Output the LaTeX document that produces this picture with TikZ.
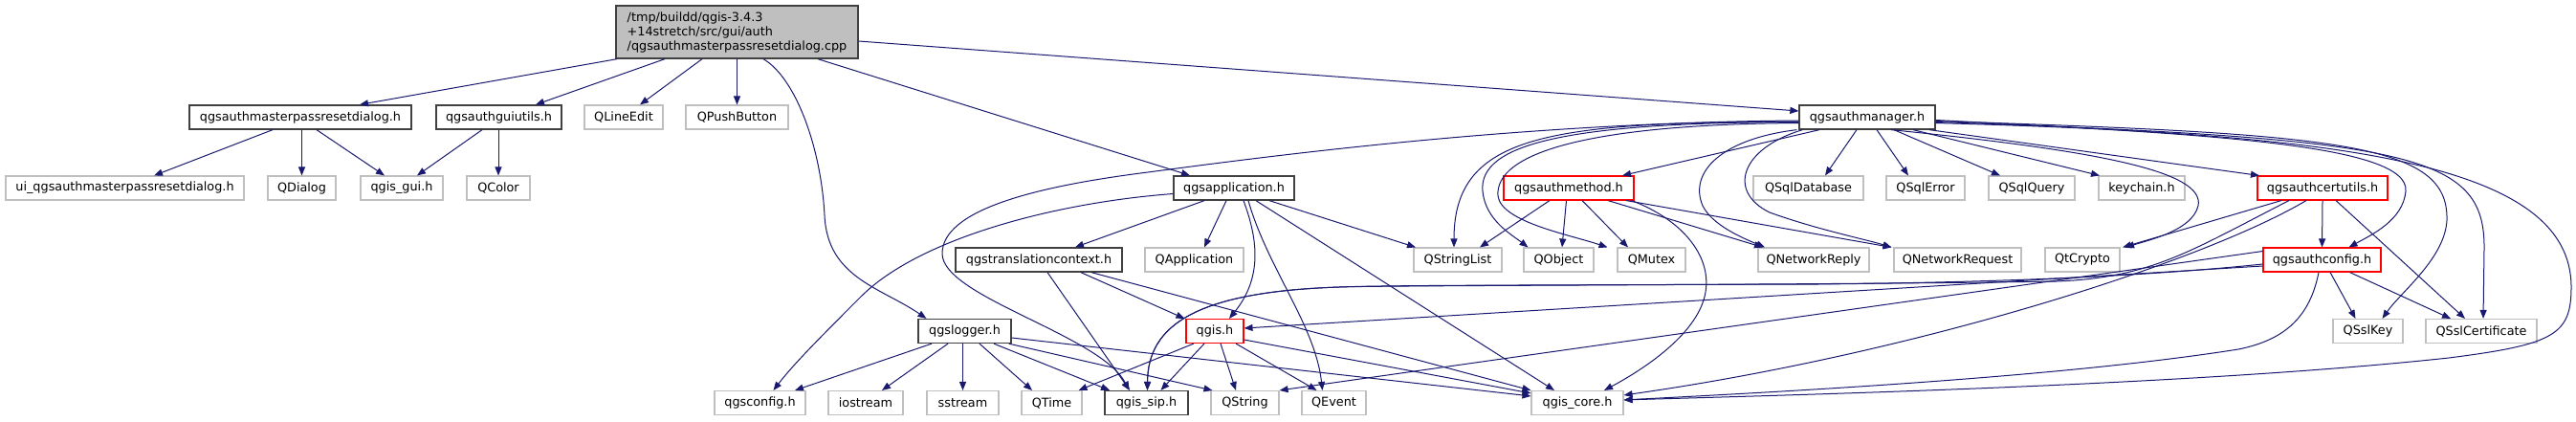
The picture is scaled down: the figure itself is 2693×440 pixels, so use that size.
\documentclass[tikz,border=0pt]{standalone}
\usepackage{fontspec}
\setmainfont{DejaVu Sans}
\usetikzlibrary{arrows.meta}
\definecolor{edgec}{HTML}{191970}
\definecolor{greyb}{HTML}{BFBFBF}
\definecolor{redb}{HTML}{FF0000}
\definecolor{blkb}{HTML}{404040}
\tikzset{
  nbase/.style={rectangle, inner sep=0pt, minimum height=25pt, font=\fontsize{12.8pt}{15pt}\selectfont, text=black},
  blk/.style={nbase, draw=blkb, line width=1.3pt, fill=white},
  redn/.style={nbase, draw=redb, line width=1.1pt, fill=white},
  gry/.style={nbase, draw=greyb, line width=1.1pt, fill=white},
  dep/.style={draw=edgec, line width=1pt, -{Triangle[length=9pt,width=7pt]}},
}
\begin{document}
\begin{tikzpicture}[x=1pt,y=-1pt]
\fill[white] (0,0) rectangle (2693,440);
\useasboundingbox (0,0) rectangle (2693,440);
% row 0
\node[blk, fill=greyb, minimum width=253pt, minimum height=55pt, align=left] (root) at (770.5,33.5) {/tmp/buildd/qgis-3.4.3\\+14stretch/src/gui/auth\\/qgsauthmasterpassresetdialog.cpp};
% row 1
\node[blk, minimum width=232pt] (pr) at (314,122.5) {qgsauthmasterpassresetdialog.h};
\node[blk, minimum width=131pt] (gu) at (521.5,122.5) {qgsauthguiutils.h};
\node[gry, minimum width=82pt] (le) at (652,122.5) {QLineEdit};
\node[gry, minimum width=107pt] (pb) at (770.5,122.5) {QPushButton};
\node[blk, minimum width=142pt] (am) at (1952,122.5) {qgsauthmanager.h};
% row 2
\node[gry, minimum width=249pt] (ui) at (130.5,196.5) {ui\_qgsauthmasterpassresetdialog.h};
\node[gry, minimum width=71pt] (qd) at (315.5,196.5) {QDialog};
\node[gry, minimum width=86pt] (gg) at (420,196.5) {qgis\_gui.h};
\node[gry, minimum width=66pt] (qc) at (521,196.5) {QColor};
\node[blk, minimum width=126pt] (ap) at (1290,196.5) {qgsapplication.h};
\node[redn, minimum width=136pt] (mt) at (1640,196.5) {qgsauthmethod.h};
\node[gry, minimum width=115pt] (sd) at (1890.5,196.5) {QSqlDatabase};
\node[gry, minimum width=82pt] (se) at (2013,196.5) {QSqlError};
\node[gry, minimum width=90pt] (sq) at (2124,196.5) {QSqlQuery};
\node[gry, minimum width=90pt] (kc) at (2239,196.5) {keychain.h};
\node[redn, minimum width=136pt] (cu) at (2428,196.5) {qgsauthcertutils.h};
% row 3
\node[blk, minimum width=174pt] (tc) at (1086,271.5) {qgstranslationcontext.h};
\node[gry, minimum width=103pt] (qa) at (1248.5,271.5) {QApplication};
\node[gry, minimum width=92pt] (sl) at (1524,271.5) {QStringList};
\node[gry, minimum width=73pt] (qo) at (1629.5,271.5) {QObject};
\node[gry, minimum width=71pt] (qm) at (1726.5,271.5) {QMutex};
\node[gry, minimum width=116pt] (nr) at (1896,271.5) {QNetworkReply};
\node[gry, minimum width=133pt] (nq) at (2046.5,271.5) {QNetworkRequest};
\node[gry, minimum width=78pt] (qt) at (2177,271.5) {QtCrypto};
\node[redn, minimum width=123pt] (ac) at (2427.5,271.5) {qgsauthconfig.h};
% row 4
\node[blk, minimum width=97pt] (lg) at (1008.5,346) {qgslogger.h};
\node[redn, minimum width=60pt] (qg) at (1270,346) {qgis.h};
\node[gry, minimum width=73pt] (sk) at (2475.5,346) {QSslKey};
\node[gry, minimum width=116pt] (sc) at (2594,346) {QSslCertificate};
% row 5
\node[gry, minimum width=95pt] (cf) at (794.5,421) {qgsconfig.h};
\node[gry, minimum width=78pt] (io) at (905,421) {iostream};
\node[gry, minimum width=75pt] (ss) at (1006.5,421) {sstream};
\node[gry, minimum width=63pt] (tm) at (1099.5,421) {QTime};
\node[blk, minimum width=87pt] (sp) at (1198.5,421) {qgis\_sip.h};
\node[gry, minimum width=71pt] (qs) at (1301.5,421) {QString};
\node[gry, minimum width=67pt] (ev) at (1394.5,421) {QEvent};
\node[gry, minimum width=96pt] (co) at (1649,421) {qgis\_core.h};

% root edges
\draw[dep] ([xshift=-125.5pt]root.south) -- ([xshift=62pt]pr.north);
\draw[dep] ([xshift=-75.5pt]root.south) -- ([xshift=38.5pt]gu.north);
\draw[dep] ([xshift=-36.5pt]root.south) -- ([xshift=17pt]le.north);
\draw[dep] (root.south) -- (pb.north);
\draw[dep] ([xshift=84.5pt]root.south) -- ([xshift=-46pt]ap.north);
\draw[dep] ([yshift=-9.5pt]root.east) -- ([yshift=6.5pt]am.west);
\draw[dep] ([xshift=27.5pt]root.south) .. controls (830,80) and (858,150) .. (862,225) .. controls (865,290) and (920,300) .. ([xshift=-40pt]lg.north);

% dialog / guiutils
\draw[dep] ([xshift=-29pt]pr.south) -- ([xshift=30.5pt]ui.north);
\draw[dep] ([xshift=1.5pt]pr.south) -- (qd.north);
\draw[dep] ([xshift=17pt]pr.south) -- ([xshift=-18pt]gg.north);
\draw[dep] ([xshift=-17.5pt]gu.south) -- ([xshift=16pt]gg.north);
\draw[dep] ([xshift=-0.5pt]gu.south) -- (qc.north);

% authmanager straight
\draw[dep] ([xshift=-50pt]am.south) -- ([xshift=56pt]mt.north);
\draw[dep] ([xshift=-11pt]am.south) -- ([xshift=17.5pt]sd.north);
\draw[dep] ([xshift=10pt]am.south) -- ([xshift=-18pt]se.north);
\draw[dep] ([xshift=28pt]am.south) -- ([xshift=-33pt]sq.north);
\draw[dep] ([xshift=48pt]am.south) -- ([xshift=-44pt]kc.north);
\draw[dep] ([xshift=65pt]am.south) -- ([xshift=-66pt]cu.north);
% authmanager curves to the left
\draw[dep] ([yshift=-4.5pt]am.west) .. controls (1620,128) and (1520,140) .. ([xshift=-4pt]sl.north);
\draw[dep] ([yshift=-5pt]am.west) .. controls (1640,128) and (1545,150) .. (1550,200) .. controls (1553,230) and (1580,245) .. ([xshift=-32pt]qo.north);
\draw[dep] ([yshift=-6pt]am.west) .. controls (1660,130) and (1562,160) .. (1566,205) .. controls (1570,232) and (1640,245) .. ([xshift=-46pt]qm.north);
\draw[dep] ([yshift=-3.5pt]am.west) .. controls (1600,128) and (1350,160) .. (1200,180) .. controls (1080,195) and (985,220) .. (985,265) .. controls (985,310) and (1150,350) .. ([xshift=-18pt]sp.north);
\draw[dep] ([xshift=-2pt]am.south west) .. controls (1800,145) and (1765,180) .. (1780,215) .. controls (1790,235) and (1820,248) .. ([xshift=-51pt]nr.north);
\draw[dep] ([xshift=4pt]am.south west) .. controls (1820,155) and (1805,200) .. (1850,222) .. controls (1900,240) and (1950,250) .. ([xshift=-69pt]nq.north);
% authmanager curves to the right
\draw[dep] ([xshift=25pt]am.south) .. controls (2200,158) and (2305,180) .. (2298,215) .. controls (2292,240) and (2250,250) .. ([xshift=45pt]qt.north);
\draw[dep] ([yshift=-3pt]am.east) .. controls (2300,140) and (2520,150) .. (2515,200) .. controls (2512,230) and (2480,245) .. ([xshift=28pt]ac.north);
\draw[dep] ([yshift=-4pt]am.east) .. controls (2450,140) and (2560,150) .. (2558,230) .. controls (2556,270) and (2510,305) .. ([xshift=15pt]sk.north);
\draw[dep] ([yshift=-5pt]am.east) .. controls (2520,145) and (2598,160) .. (2597,260) -- ([xshift=2pt]sc.north);
\draw[dep] ([yshift=-6pt]am.east) .. controls (2450,140) and (2688,170) .. (2688,300) .. controls (2688,350) and (2670,360) .. (2560,374) .. controls (2300,402) and (1900,412) .. ([yshift=-10pt]co.north east);

% authmethod
\draw[dep] ([xshift=-20pt]mt.south) -- ([xshift=23pt]sl.north);
\draw[dep] ([xshift=-2.5pt]mt.south) -- ([xshift=3.5pt]qo.north);
\draw[dep] ([xshift=14pt]mt.south) -- ([xshift=-24.5pt]qm.north);
\draw[dep] ([xshift=41pt]mt.south) -- ([xshift=-53pt]nr.north);
\draw[dep] ([xshift=60pt]mt.south) -- ([xshift=-69pt]nq.north);
\draw[dep] ([xshift=-3pt]mt.south east) .. controls (1760,230) and (1792,270) .. (1782,310) .. controls (1772,350) and (1720,385) .. ([xshift=28pt]co.north);

% application
\draw[dep] ([xshift=-31pt]ap.south) -- ([xshift=38pt]tc.north);
\draw[dep] ([xshift=-8pt]ap.south) -- ([xshift=10.5pt]qa.north);
\draw[dep] ([xshift=10pt]ap.south) .. controls (1315,250) and (1320,290) .. ([xshift=15pt]qg.north);
\draw[dep] ([xshift=15pt]ap.south) .. controls (1325,280) and (1375,340) .. ([xshift=-12pt]ev.north);
\draw[dep] ([xshift=23pt]ap.south) -- ([xshift=-24pt]co.north);
\draw[dep] ([xshift=37pt]ap.south) -- ([xshift=-44pt]sl.north);
\draw[dep] ([yshift=-6pt]ap.west) .. controls (1100,212) and (960,250) .. (900,310) .. controls (860,350) and (830,380) .. ([xshift=14pt]cf.north);

% translation context
\draw[dep] ([xshift=9pt]tc.south) -- ([xshift=-17.5pt]sp.north);
\draw[dep] ([xshift=44pt]tc.south) -- ([xshift=-1pt]qg.north west);
\draw[dep] ([xshift=55pt]tc.south) -- (co.north west);

% qgis.h
\draw[dep] ([xshift=-22pt]qg.south) -- ([xshift=28pt]tm.north);
\draw[dep] ([xshift=-11pt]qg.south) -- ([xshift=15pt]sp.north);
\draw[dep] ([xshift=6pt]qg.south) -- ([xshift=-9.5pt]qs.north);
\draw[dep] ([xshift=22pt]qg.south) -- ([xshift=-18pt]ev.north);
\draw[dep] ([yshift=-9pt]qg.east) -- ([yshift=-3pt]co.north west);

% logger
\draw[dep] ([xshift=-34.5pt]lg.south) -- ([xshift=36.5pt]cf.north);
\draw[dep] ([xshift=-17.5pt]lg.south) -- ([xshift=17pt]io.north);
\draw[dep] ([xshift=-2pt]lg.south) -- (ss.north);
\draw[dep] ([xshift=15.5pt]lg.south) -- ([xshift=-20.5pt]tm.north);
\draw[dep] ([xshift=30.5pt]lg.south) -- ([xshift=-38.5pt]sp.north);
\draw[dep] ([xshift=-3pt]lg.south east) -- ([xshift=2pt]qs.north west);
\draw[dep] ([yshift=-7pt]lg.east) -- ([yshift=-6pt]co.north west);

% authconfig
\draw[dep] ([yshift=-6.5pt]ac.west) -- ([yshift=3pt]qg.east);
\draw[dep] ([yshift=9pt]ac.west) -- (qs.north east);
\draw[dep] ([yshift=-4.5pt]ac.west) .. controls (2250,288) and (2100,295) .. (1900,297) .. controls (1600,298) and (1450,298) .. (1400,300) .. controls (1250,305) and (1200,340) .. ([xshift=1pt]sp.north);
\draw[dep] ([xshift=-3.5pt]ac.south) .. controls (2415,330) and (2390,355) .. (2340,365) .. controls (2150,395) and (1850,410) .. ([yshift=-10pt]co.north east);
\draw[dep] ([xshift=8.5pt]ac.south) -- ([xshift=-13pt]sk.north);
\draw[dep] ([xshift=29pt]ac.south) -- ([xshift=-32pt]sc.north);

% authcertutils
\draw[dep] (cu.south) -- (ac.north);
\draw[dep] ([xshift=14pt]cu.south) -- ([xshift=-17pt]sc.north);
\draw[dep] ([xshift=-43pt]cu.south) -- ([xshift=42pt]qt.north);
\draw[dep] ([xshift=-35pt]cu.south) .. controls (2290,262) and (2250,290) .. (2150,294) .. controls (1900,298) and (1450,298) .. (1400,300) .. controls (1250,305) and (1200,340) .. ([xshift=1pt]sp.north);
\draw[dep] ([xshift=-17pt]cu.south) .. controls (2300,275) and (2000,370) .. ([yshift=-5pt]co.north east);
\end{tikzpicture}
\end{document}
